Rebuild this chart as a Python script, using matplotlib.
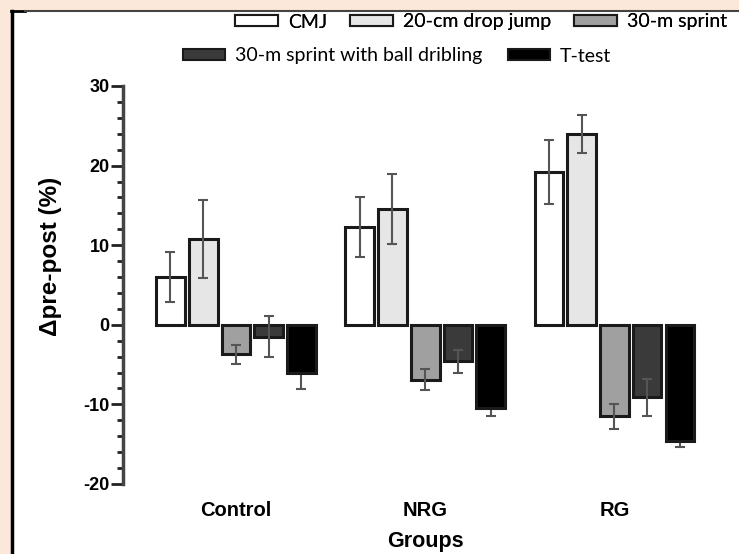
import matplotlib
matplotlib.use("Agg")
import matplotlib.pyplot as plt
import numpy as np
from matplotlib.patches import Patch, Rectangle
from matplotlib.lines import Line2D

plt.rcParams["axes.unicode_minus"] = False

groups = ["Control", "NRG", "RG"]
series = ["CMJ", "20-cm drop jump", "30-m sprint", "30-m sprint with ball dribling", "T-test"]
values = {
    "CMJ":                            [6.0, 12.3, 19.2],
    "20-cm drop jump":                [10.8, 14.5, 24.0],
    "30-m sprint":                    [-3.7, -6.9, -11.5],
    "30-m sprint with ball dribling": [-1.5, -4.6, -9.1],
    "T-test":                         [-6.1, -10.5, -14.6],
}
errors = {
    "CMJ":                            [3.1, 3.8, 4.0],
    "20-cm drop jump":                [4.9, 4.4, 2.4],
    "30-m sprint":                    [1.2, 1.3, 1.6],
    "30-m sprint with ball dribling": [2.6, 1.4, 2.3],
    "T-test":                         [2.0, 0.9, 0.8],
}
colors = ["#ffffff", "#e6e6e6", "#a0a0a0", "#3a3a3a", "#000000"]

W, H = 739, 554
fig = plt.figure(figsize=(W / 100, H / 100), dpi=100)
fig.patch.set_facecolor("white")

# decorative frame (peach margin + black border lines)
peach = "#fce8da"
fig.patches.append(Rectangle((0, 1 - 10 / H), 1, 10 / H, transform=fig.transFigure,
                             facecolor=peach, edgecolor="none", zorder=0))
fig.patches.append(Rectangle((0, 0), 11 / W, 1, transform=fig.transFigure,
                             facecolor=peach, edgecolor="none", zorder=0))
fig.lines.append(Line2D([12 / W, 12 / W], [0, 1 - 10.5 / H], transform=fig.transFigure,
                        color="black", lw=2.5, zorder=1))
fig.lines.append(Line2D([11 / W, 25 / W], [1 - 11 / H, 1 - 11 / H], transform=fig.transFigure,
                        color="black", lw=2, zorder=1))
fig.lines.append(Line2D([25 / W, 1], [1 - 11 / H, 1 - 11 / H], transform=fig.transFigure,
                        color="#444444", lw=1.5, zorder=1))

ax = fig.add_axes([123 / W, 70 / H, (728 - 123) / W, (484 - 86) / H])
ax.set_facecolor("none")

x = np.arange(len(groups))
step = 0.173
width = 0.151
for i, s in enumerate(series):
    pos = x + (i - 2) * step
    ax.bar(pos, values[s], width=width, color=colors[i], edgecolor="#1a1a1a",
           linewidth=2.2, zorder=2)
    ez = 1 if colors[i] == "#000000" else 3
    ax.errorbar(pos, values[s], yerr=errors[s], fmt="none", ecolor="#555555",
                elinewidth=1.5, capsize=3.5, capthick=1.5, zorder=ez)

ax.set_ylim(-20, 30)
ax.set_xlim(-0.597, 2.6)
ax.set_yticks([-20, -10, 0, 10, 20, 30])
ax.set_yticks(np.arange(-20, 31, 2), minor=True)
ax.tick_params(axis="y", which="major", length=9, width=2, color="#222222", pad=0.5,
               labelsize=13)
ax.tick_params(axis="y", which="minor", length=4, width=2, color="#222222")
for lbl in ax.get_yticklabels():
    lbl.set_fontweight("bold")
    lbl.set_family("Liberation Sans")

ax.set_xticks(x)
ax.set_xticklabels(groups, fontsize=14.5, fontweight="bold", family="Liberation Sans")
ax.tick_params(axis="x", length=0, pad=12)

for sp in ["top", "right", "bottom"]:
    ax.spines[sp].set_visible(False)
ax.spines["left"].set_linewidth(2.5)
ax.spines["left"].set_color("#444444")

ax.set_ylabel("Δpre-post (%)", fontsize=17.5, fontweight="bold", family="Liberation Sans")
ax.yaxis.set_label_coords((62 - 123) / 605, (484 - 256) / 398)
ax.set_xlabel("Groups", fontsize=15.5, fontweight="bold", family="Liberation Sans",
              va="center")
ax.xaxis.set_label_coords((425 - 123) / 605, (484 - 542) / 398)

handles = [Patch(facecolor=colors[i], edgecolor="#1a1a1a", linewidth=1.5) for i in range(5)]
common = dict(frameon=False, prop={"family": "Lato", "size": 14}, handlelength=2.2,
              handleheight=0.55, handletextpad=0.5, borderaxespad=0, borderpad=0)
leg1 = fig.legend(handles[:3], series[:3], loc="center right",
                  bbox_to_anchor=(727 / W, 1 - 22 / H), ncol=3, columnspacing=1.2, **common)
leg2 = fig.legend(handles[3:], series[3:], loc="center",
                  bbox_to_anchor=(397 / W, 1 - 56 / H), ncol=2, columnspacing=1.3, **common)
fig.add_artist(leg1)

fig.savefig("out.png", dpi=100, facecolor=fig.get_facecolor())
